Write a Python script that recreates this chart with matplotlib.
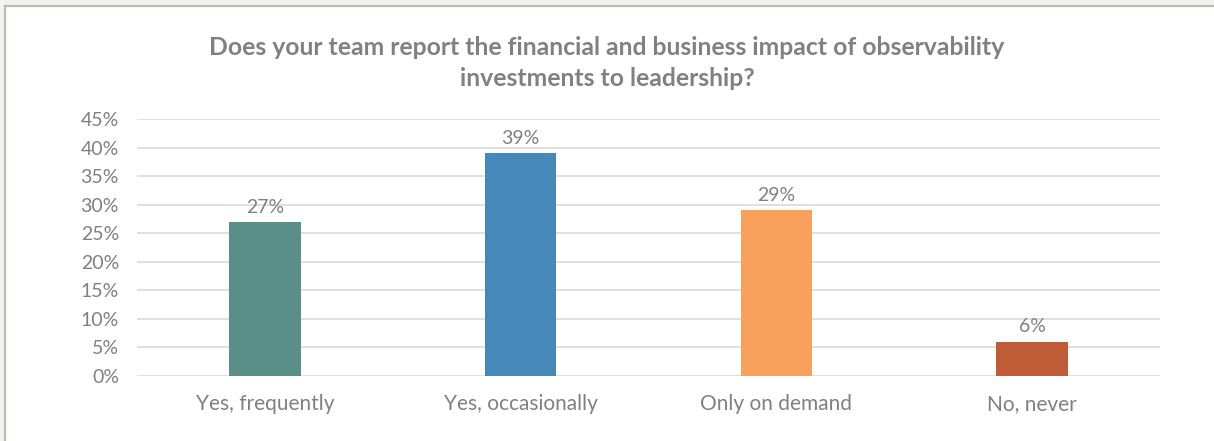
import matplotlib.pyplot as plt
from matplotlib.patches import Rectangle
from matplotlib.lines import Line2D

# ── data ─────────────────────────────────────────
categories = ["Yes, frequently", "Yes, occasionally", "Only on demand", "No, never"]
shares = [27, 39, 29, 6]
bar_colors = ["#5A8F87", "#4689B9", "#F8A15C", "#BF5B36"]
y_ticks = [0, 5, 10, 15, 20, 25, 30, 35, 40, 45]

TEXT_GRAY = "#808080"
GRID_GRAY = "#d9d9d9"

plt.rcParams["font.family"] = ["Lato", "DejaVu Sans"]

fig = plt.figure(figsize=(12.14, 4.41), dpi=100)
W, H = 1214, 441

# ── frame: light band on top, tan border lines ───
fig.patches.append(Rectangle((0, 1 - 5 / H), 1, 5 / H, transform=fig.transFigure,
                             facecolor="#f0f0f0", edgecolor="none"))
fig.patches.append(Rectangle((0, 0), 4 / W, 1, transform=fig.transFigure,
                             facecolor="#f3f3f3", edgecolor="none"))
fig.lines.append(Line2D([4.5 / W, 1], [1 - 5.5 / H, 1 - 5.5 / H], transform=fig.transFigure,
                        color="#c0baa9", linewidth=1.6))
fig.lines.append(Line2D([4.5 / W, 4.5 / W], [0, 1 - 5.5 / H], transform=fig.transFigure,
                        color="#c0baa9", linewidth=1.6))

# ── axes ─────────────────────────────────────────
left, right = 137 / W, 1160 / W
top, bottom = 1 - 119 / H, 1 - 376 / H
ax = fig.add_axes([left, bottom, right - left, top - bottom])

x = range(len(categories))
bars = ax.bar(x, shares, width=0.28, color=bar_colors, zorder=3)

for bar, v in zip(bars, shares):
    ax.text(bar.get_x() + bar.get_width() / 2, v + 1.1, f"{v}%",
            ha="center", va="bottom", fontsize=14, color=TEXT_GRAY)

ax.set_xlim(-0.5, len(categories) - 0.5)
ax.set_ylim(0, 45)
ax.set_yticks(y_ticks)
ax.set_yticklabels([f"{t}%" for t in y_ticks])
ax.set_xticks(list(x))
ax.set_xticklabels(categories)

ax.grid(axis="y", color=GRID_GRAY, linewidth=1.2, zorder=0)
for s in ax.spines.values():
    s.set_visible(False)
ax.tick_params(axis="both", length=0, colors=TEXT_GRAY)
ax.tick_params(axis="y", labelsize=14, pad=13)
ax.tick_params(axis="x", labelsize=15, pad=13)

fig.text(0.5, 1 - 63 / H,
         "Does your team report the financial and business impact of observability\n"
         "investments to leadership?",
         ha="center", va="center", fontsize=17.8, fontweight="bold",
         color=TEXT_GRAY, linespacing=1.42)

fig.savefig("out.png", dpi=100, facecolor="white")
